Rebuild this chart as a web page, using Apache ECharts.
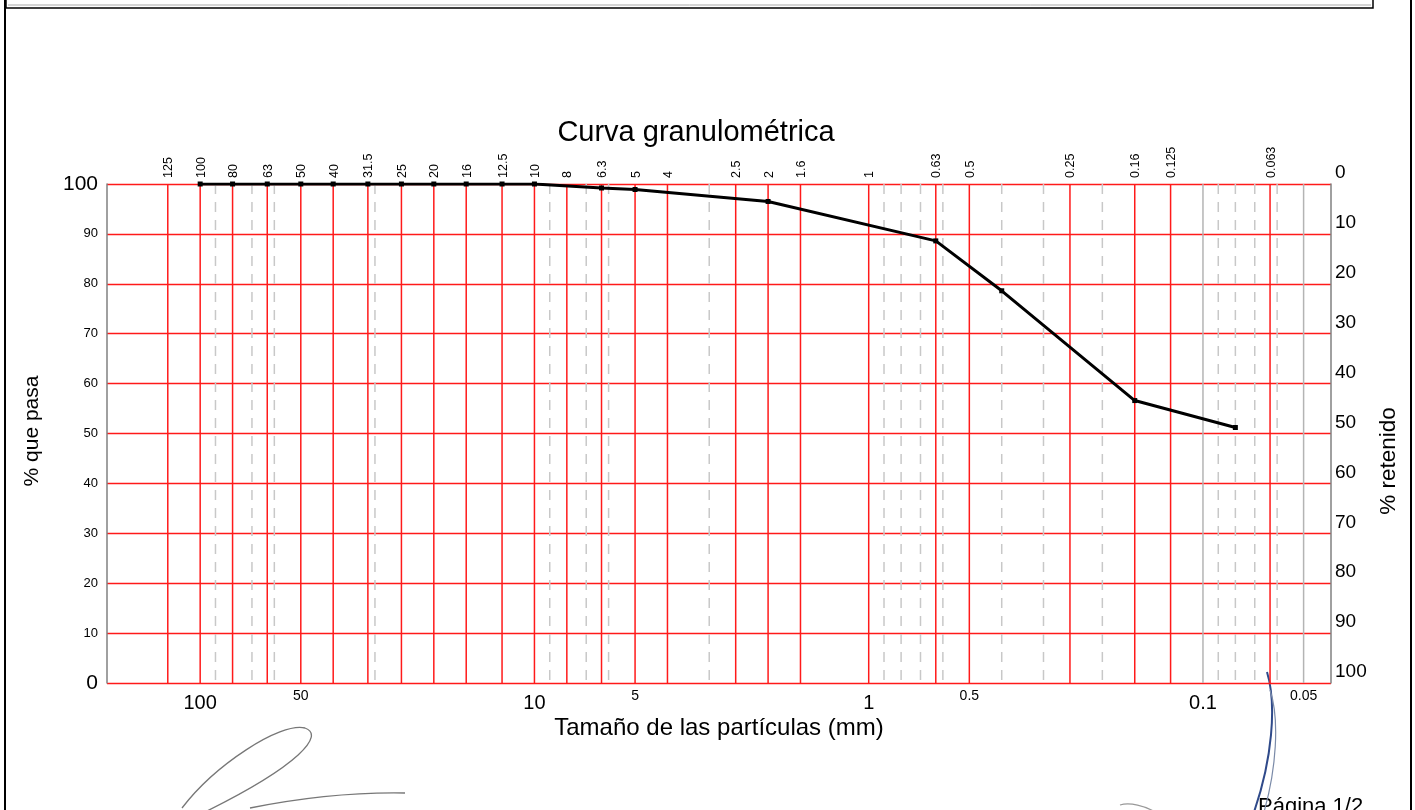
<!DOCTYPE html>
<html>
<head>
<meta charset="utf-8">
<script src="https://cdn.jsdelivr.net/npm/echarts@6/dist/echarts.min.js"></script>
<style>
html,body{margin:0;padding:0;background:#fff;}
#chart{width:1415px;height:810px;}
</style>
</head>
<body>
<div id="chart"></div>
<script>
// ---- data ----
const sieveSizes = [125, 100, 80, 63, 50, 40, 31.5, 25, 20, 16, 12.5, 10, 8, 6.3, 5, 4, 2.5, 2, 1.6, 1, 0.63, 0.5, 0.25, 0.16, 0.125, 0.063];
const minorLines = [90, 70, 60, 30, 9, 7, 6, 3, 0.9, 0.8, 0.7, 0.6, 0.4, 0.3, 0.2, 0.09, 0.08, 0.07, 0.06];
const grayLines = [0.1, 0.05];
const bottomLabelsLarge = [100, 10, 1, 0.1];
const bottomLabelsSmall = [50, 5, 0.5, 0.05];
const curveSizes = [100, 80, 63, 50, 40, 31.5, 25, 20, 16, 12.5, 10, 6.3, 5, 2, 0.63, 0.4, 0.16, 0.08];
const curvePassing = [100, 100, 100, 100, 100, 100, 100, 100, 100, 100, 100, 99.2, 98.9, 96.5, 88.6, 78.6, 56.6, 51.2];

const FONT = '"Liberation Sans", Arial, sans-serif';
const chart = echarts.init(document.getElementById('chart'), null, {renderer: 'canvas'});

function vLineSeries(values, color, dash, width, withLabel, z) {
  return {
    type: 'custom',
    coordinateSystem: 'cartesian2d',
    clip: false,
    silent: true,
    z: z,
    data: values.map(v => [v, 0]),
    renderItem: function (params, api) {
      const x = api.value(0);
      const top = api.coord([x, 100]);
      const bot = api.coord([x, 0]);
      const children = [{
        type: 'line',
        shape: {x1: top[0], y1: top[1], x2: bot[0], y2: bot[1]},
        style: {stroke: color, lineWidth: width, lineDash: dash}
      }];
      if (withLabel) {
        children.push({
          type: 'text',
          x: top[0] + 1,
          y: top[1] - 6,
          rotation: Math.PI / 2,
          style: {text: String(x), font: '12.5px ' + FONT, fill: '#000', align: 'left', verticalAlign: 'middle'}
        });
      }
      return {type: 'group', children: children};
    }
  };
}

function bottomLabelSeries(values, size, yOff) {
  return {
    type: 'custom',
    coordinateSystem: 'cartesian2d',
    clip: false,
    silent: true,
    z: 5,
    data: values.map(v => [v, 0]),
    renderItem: function (params, api) {
      const x = api.value(0);
      const p = api.coord([x, 0]);
      return {
        type: 'text',
        x: p[0],
        y: p[1] + yOff,
        style: {text: String(x), font: size + 'px ' + FONT, fill: '#000', align: 'center', verticalAlign: 'middle'}
      };
    }
  };
}

function bez(x1, y1, c1x, c1y, c2x, c2y, x2, y2, color, w) {
  return {type: 'bezierCurve', silent: true,
    shape: {x1: x1, y1: y1, cpx1: c1x, cpy1: c1y, cpx2: c2x, cpy2: c2y, x2: x2, y2: y2},
    style: {fill: null, stroke: color, lineWidth: w}};
}

const option = {
  backgroundColor: '#fff',
  animation: false,
  grid: {left: 107, right: 84, top: 184, bottom: 127, containLabel: false},
  xAxis: {
    type: 'log',
    logBase: 10,
    min: 0.0414,
    max: 190,
    inverse: true,
    axisLine: {show: false},
    axisTick: {show: false},
    axisLabel: {show: false},
    splitLine: {show: false}
  },
  yAxis: [{
    type: 'value',
    min: 0, max: 100, interval: 10,
    position: 'left',
    axisLine: {show: true, lineStyle: {color: '#808080', width: 1.5}},
    axisTick: {show: false},
    splitLine: {show: true, lineStyle: {color: '#ff1a1a', width: 1.4}},
    axisLabel: {
      margin: 9,
      formatter: v => (v === 0 || v === 100) ? '{b|' + v + '}' : '{s|' + v + '}',
      rich: {
        b: {fontSize: 21, fontFamily: FONT, color: '#000'},
        s: {fontSize: 13, fontFamily: FONT, color: '#000'}
      }
    }
  }, {
    type: 'value',
    min: 0, max: 100, interval: 10,
    inverse: true,
    position: 'right',
    axisLine: {show: true, lineStyle: {color: '#808080', width: 1.5}},
    axisTick: {show: false},
    splitLine: {show: false},
    axisLabel: {margin: 4, fontSize: 19, fontFamily: FONT, color: '#000', verticalAlign: 'bottom', lineHeight: 22}
  }],
  graphic: [
    // page frame
    {type: 'line', silent: true, shape: {x1: 5, y1: 0, x2: 5, y2: 810}, style: {stroke: '#000', lineWidth: 2}},
    {type: 'line', silent: true, shape: {x1: 1411, y1: 0, x2: 1411, y2: 810}, style: {stroke: '#000', lineWidth: 2}},
    {type: 'rect', silent: true, shape: {x: 6, y: -4, width: 1367, height: 12}, style: {fill: null, stroke: '#000', lineWidth: 1.5}},
    {type: 'line', silent: true, shape: {x1: 8, y1: 5, x2: 1371, y2: 5}, style: {stroke: '#aaa', lineWidth: 1}},
    // texts
    {type: 'text', x: 696, y: 133, style: {text: 'Curva granulométrica', font: '29px ' + FONT, fill: '#000', align: 'center', verticalAlign: 'middle'}},
    {type: 'text', x: 719, y: 728, style: {text: 'Tamaño de las partículas (mm)', font: '24px ' + FONT, fill: '#000', align: 'center', verticalAlign: 'middle'}},
    {type: 'text', x: 32, y: 431, rotation: Math.PI / 2, style: {text: '% que pasa', font: '21px ' + FONT, fill: '#000', align: 'center', verticalAlign: 'middle'}},
    {type: 'text', x: 1389, y: 461, rotation: Math.PI / 2, style: {text: '% retenido', font: '22.5px ' + FONT, fill: '#000', align: 'center', verticalAlign: 'middle'}},
    {type: 'text', x: 1258, y: 796, style: {text: 'Página 1/2', font: '22px ' + FONT, fill: '#000', align: 'left', verticalAlign: 'top'}},
    // signatures (decorative strokes)
    bez(182, 808, 215, 765, 280, 722, 305, 728, '#777', 1.3),
    bez(305, 728, 325, 735, 300, 765, 205, 812, '#777', 1.3),
    bez(250, 808, 300, 798, 350, 792, 405, 793, '#777', 1.3),
    bez(1120, 805, 1130, 802, 1145, 806, 1155, 812, '#999', 1.3),
    bez(1267, 672, 1277, 705, 1272, 760, 1254, 812, '#2f4a8a', 2),
    bez(1270, 690, 1280, 720, 1276, 770, 1264, 812, '#7a8aa8', 1.2)
  ],
  series: [
    vLineSeries(minorLines, '#c8c8c8', [10, 8], 1.5, false, 1),
    vLineSeries(grayLines, '#b4b4b4', null, 1.5, false, 1),
    vLineSeries(sieveSizes, '#ff1a1a', null, 1.5, true, 2),
    bottomLabelSeries(bottomLabelsLarge, 20, 20),
    bottomLabelSeries(bottomLabelsSmall, 14, 13),
    {
      type: 'line',
      z: 10,
      data: curveSizes.map((s, i) => [s, curvePassing[i]]),
      symbol: 'rect',
      symbolSize: 5,
      showSymbol: true,
      itemStyle: {color: '#000'},
      lineStyle: {color: '#000', width: 3},
      silent: true
    }
  ]
};
chart.setOption(option);
</script>
</body>
</html>
